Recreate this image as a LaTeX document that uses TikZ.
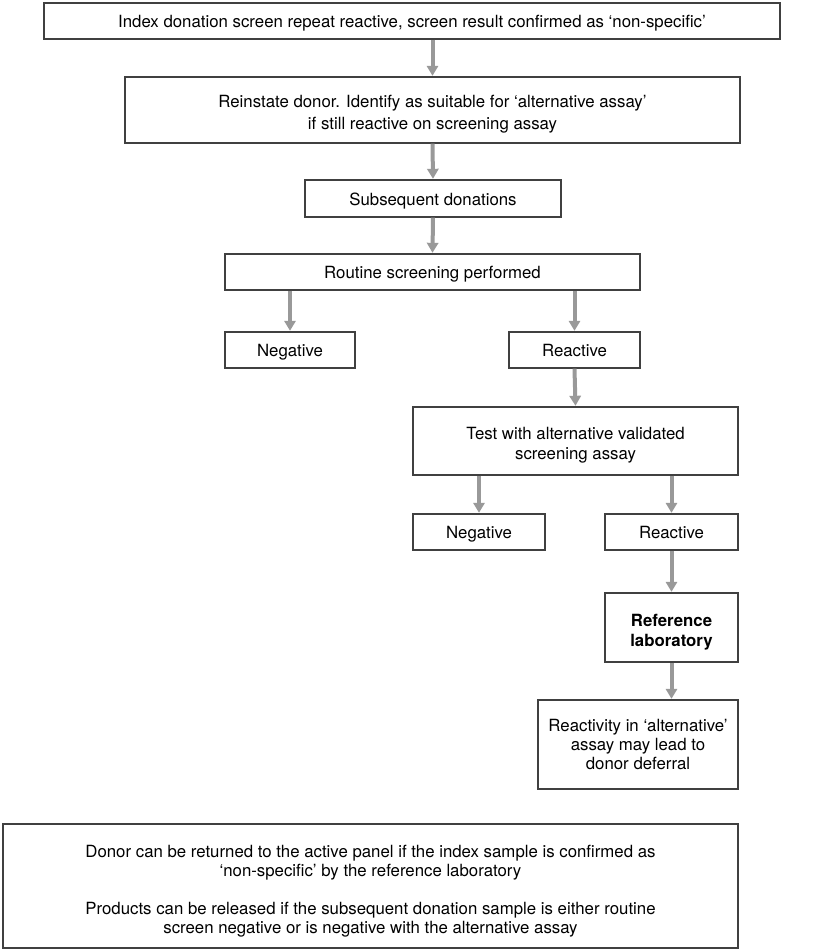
\documentclass[tikz,border=0pt]{standalone}
\usepackage{fontspec}
\setmainfont{TeX Gyre Heros}
\usetikzlibrary{arrows.meta}
\usetikzlibrary{calc}
\definecolor{flowgrey}{HTML}{999999}
\definecolor{edgegrey}{HTML}{404040}
\newcommand{\lift}[1]{\rule{0pt}{#1}}
\tikzset{
	>={Triangle[width=5.6pt,length=5pt]},
	box/.style={draw=edgegrey, line width=0.6pt, align=center, inner sep=2pt, text depth=0pt,
		execute at begin node={\rule{0pt}{6.6pt}}, font=\fontsize{8.4}{9.6}\selectfont},
	flow/.style={draw=flowgrey, line width=2pt, shorten >=0.3pt}
}
\begin{document}
\begin{tikzpicture}[x=0.5pt, y=-0.5pt]
	\useasboundingbox (0,0) rectangle (823,950);
	\node[box, minimum width=368pt, minimum height=18pt] (index) at (412,21) {Index donation screen repeat reactive, screen result confirmed as ‘non-specific’};
	\node[box, minimum width=307.5pt, minimum height=33pt] (reinstate) at (432.5,110) {\lift{8.4pt}Reinstate donor. Identify as suitable for ‘alternative assay’\\[1.3pt] if still reactive on screening assay};
	\node[box, minimum width=128pt, minimum height=18.5pt] (subseq) at (433,198.5) {Subsequent donations};
	\node[box, minimum width=207.5pt, minimum height=18pt] (routine) at (432.5,272) {Routine screening performed};
	\node[box, minimum width=65pt, minimum height=18pt] (negA) at (290,350) {Negative};
	\node[box, minimum width=65.5pt, minimum height=18pt] (reacA) at (574.5,350) {Reactive};
	\node[box, minimum width=162.5pt, minimum height=34pt] (alttest) at (575.5,441) {\lift{8.4pt}Test with alternative validated\\ screening assay};
	\node[box, minimum width=66pt, minimum height=18pt] (negB) at (479,532) {Negative};
	\node[box, minimum width=66.5pt, minimum height=18pt] (reacB) at (671.5,532) {Reactive};
	\node[box, minimum width=66.5pt, minimum height=34.5pt] (reflab) at (671.5,627.5) {\lift{9pt}\bfseries Reference\\ \bfseries laboratory};
	\node[box, minimum width=100pt, minimum height=44.5pt, font=\fontsize{8.4}{9.4}\selectfont] (deferral) at (638,744.5) {Reactivity in ‘alternative’\\ assay may lead to\\ donor deferral};
	\node[box, minimum width=367.5pt, minimum height=62pt] (notes) at (370.5,886) {\lift{9.6pt}Donor can be returned to the active panel if the index sample is confirmed as\\ ‘non-specific’ by the reference laboratory\\[9.3pt] Products can be released if the subsequent donation sample is either routine\\ screen negative or is negative with the alternative assay};

	% connectors
	\draw[->, flow] (reinstate.north |- index.south) -- (reinstate.north);
	\draw[->, flow] (reinstate.south) -- (subseq.north);
	\draw[->, flow] (subseq.south) -- (routine.north);
	\draw[->, flow] (negA.north |- routine.south) -- (negA.north);
	\draw[->, flow] (reacA.north |- routine.south) -- (reacA.north);
	\draw[->, flow] (reacA.south) -- (alttest.north);
	\draw[->, flow] (negB.north |- alttest.south) -- (negB.north);
	\draw[->, flow] (reacB.north |- alttest.south) -- (reacB.north);
	\draw[->, flow] (reacB.south) -- (reflab.north);
	\draw[->, flow] (reflab.south) -- (reflab.south |- deferral.north);
\end{tikzpicture}
\end{document}
